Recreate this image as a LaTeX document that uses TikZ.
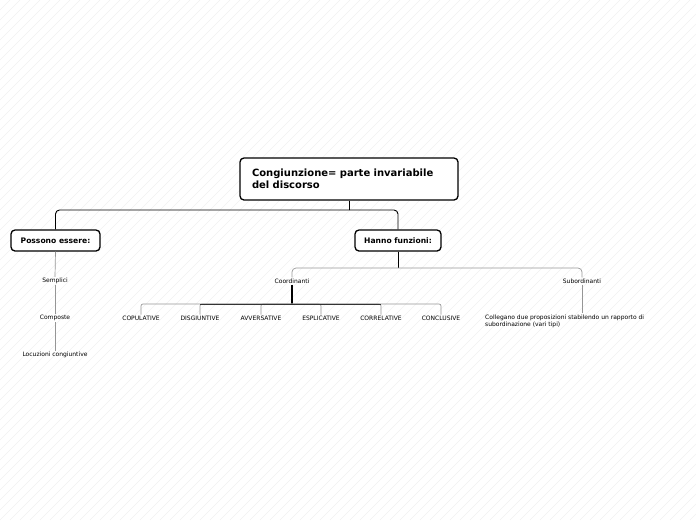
\documentclass[tikz,border=0pt]{standalone}
\usepackage{fontspec}
\setmainfont{DejaVu Sans}
\usetikzlibrary{positioning}
\definecolor{hatch}{RGB}{240,240,240}
\definecolor{branch}{RGB}{150,150,150}

\begin{document}
\begin{tikzpicture}[x=1pt,y=-1pt,
  topic/.style={draw=black,line width=1.3pt,rounded corners=4pt,fill=white,
                font=\fontsize{7.6}{9}\selectfont\bfseries,
                minimum height=21pt,inner xsep=4pt},
  leaf/.style={inner sep=1pt,font=\fontsize{6}{7.2}\selectfont},
  main/.style={draw,line width=0.9pt},
  sub/.style={draw=branch,line width=0.7pt}]
  \useasboundingbox (0,0) rectangle (696,520);
  % hatched background
  \begin{scope}
    \clip (0,0) rectangle (696,520);
    \foreach \k in {-520,-510,...,700}
      \draw[hatch,line width=0.5pt] (\k,520) -- (\k+520,0);
  \end{scope}
  % central topic
  \node[topic,minimum width=218pt,minimum height=42pt,text width=194pt,
        align=left,inner xsep=12pt,font=\fontsize{10}{12.5}\selectfont\bfseries]
        (root) at (349,179) {Congiunzione= parte invariabile\\del discorso};
  \node[topic,minimum width=89pt] (possono) at (55.5,240.5) {Possono essere:};
  \node[topic,minimum width=86pt] (hanno) at (398,240.5) {Hanno funzioni:};
  \draw[main] (root.south) -- (349,210) coordinate (j1);
  \draw[main,rounded corners=4pt] (j1) -| (possono.north);
  \draw[main,rounded corners=4pt] (j1) -| (hanno.north);
  % left branch
  \node[leaf] (semplici) at (55,281) {Semplici};
  \node[leaf] (composte) at (55,318) {Composte};
  \node[leaf] (locuzioni) at (55,355) {Locuzioni congiuntive};
  \draw[sub] (possono.south) -- (semplici.north);
  \draw[sub] (semplici.south) -- (composte.north);
  \draw[sub] (composte.south) -- (locuzioni.north);
  % right branch
  \node[leaf] (coord) at (292,281) {Coordinanti};
  \node[leaf] (subord) at (582,281) {Subordinanti};
  \draw[main] (hanno.south) -- (398,268) coordinate (j2);
  \draw[sub,rounded corners=4pt] (j2) -| (coord.north);
  \draw[sub,rounded corners=4pt] (j2) -| (subord.north);
  % coordinanti
  \draw[line width=1.2pt] (coord.south) -- (292,304) coordinate (j3);
  \foreach \x/\name/\txt in {141/copul/COPULATIVE,200/disg/DISGIUNTIVE,
      261/avv/AVVERSATIVE,321/espl/ESPLICATIVE,381/corr/CORRELATIVE,
      441/concl/CONCLUSIVE} {
    \node[leaf] (\name) at (\x,318) {\txt};
    \draw[sub,rounded corners=2pt] (j3) -| (\name.north);
  }
  \draw[black!80,line width=0.8pt] (200,304) -- (381,304);
  % subordinanti
  \node[leaf,anchor=north west,align=left,inner sep=0pt] (colleg) at (485,314.5)
    {Collegano due proposizioni stabilendo un rapporto di\\subordinazione (vari tipi)};
  \draw[sub] (subord.south) -- (582,313);
\end{tikzpicture}
\end{document}
